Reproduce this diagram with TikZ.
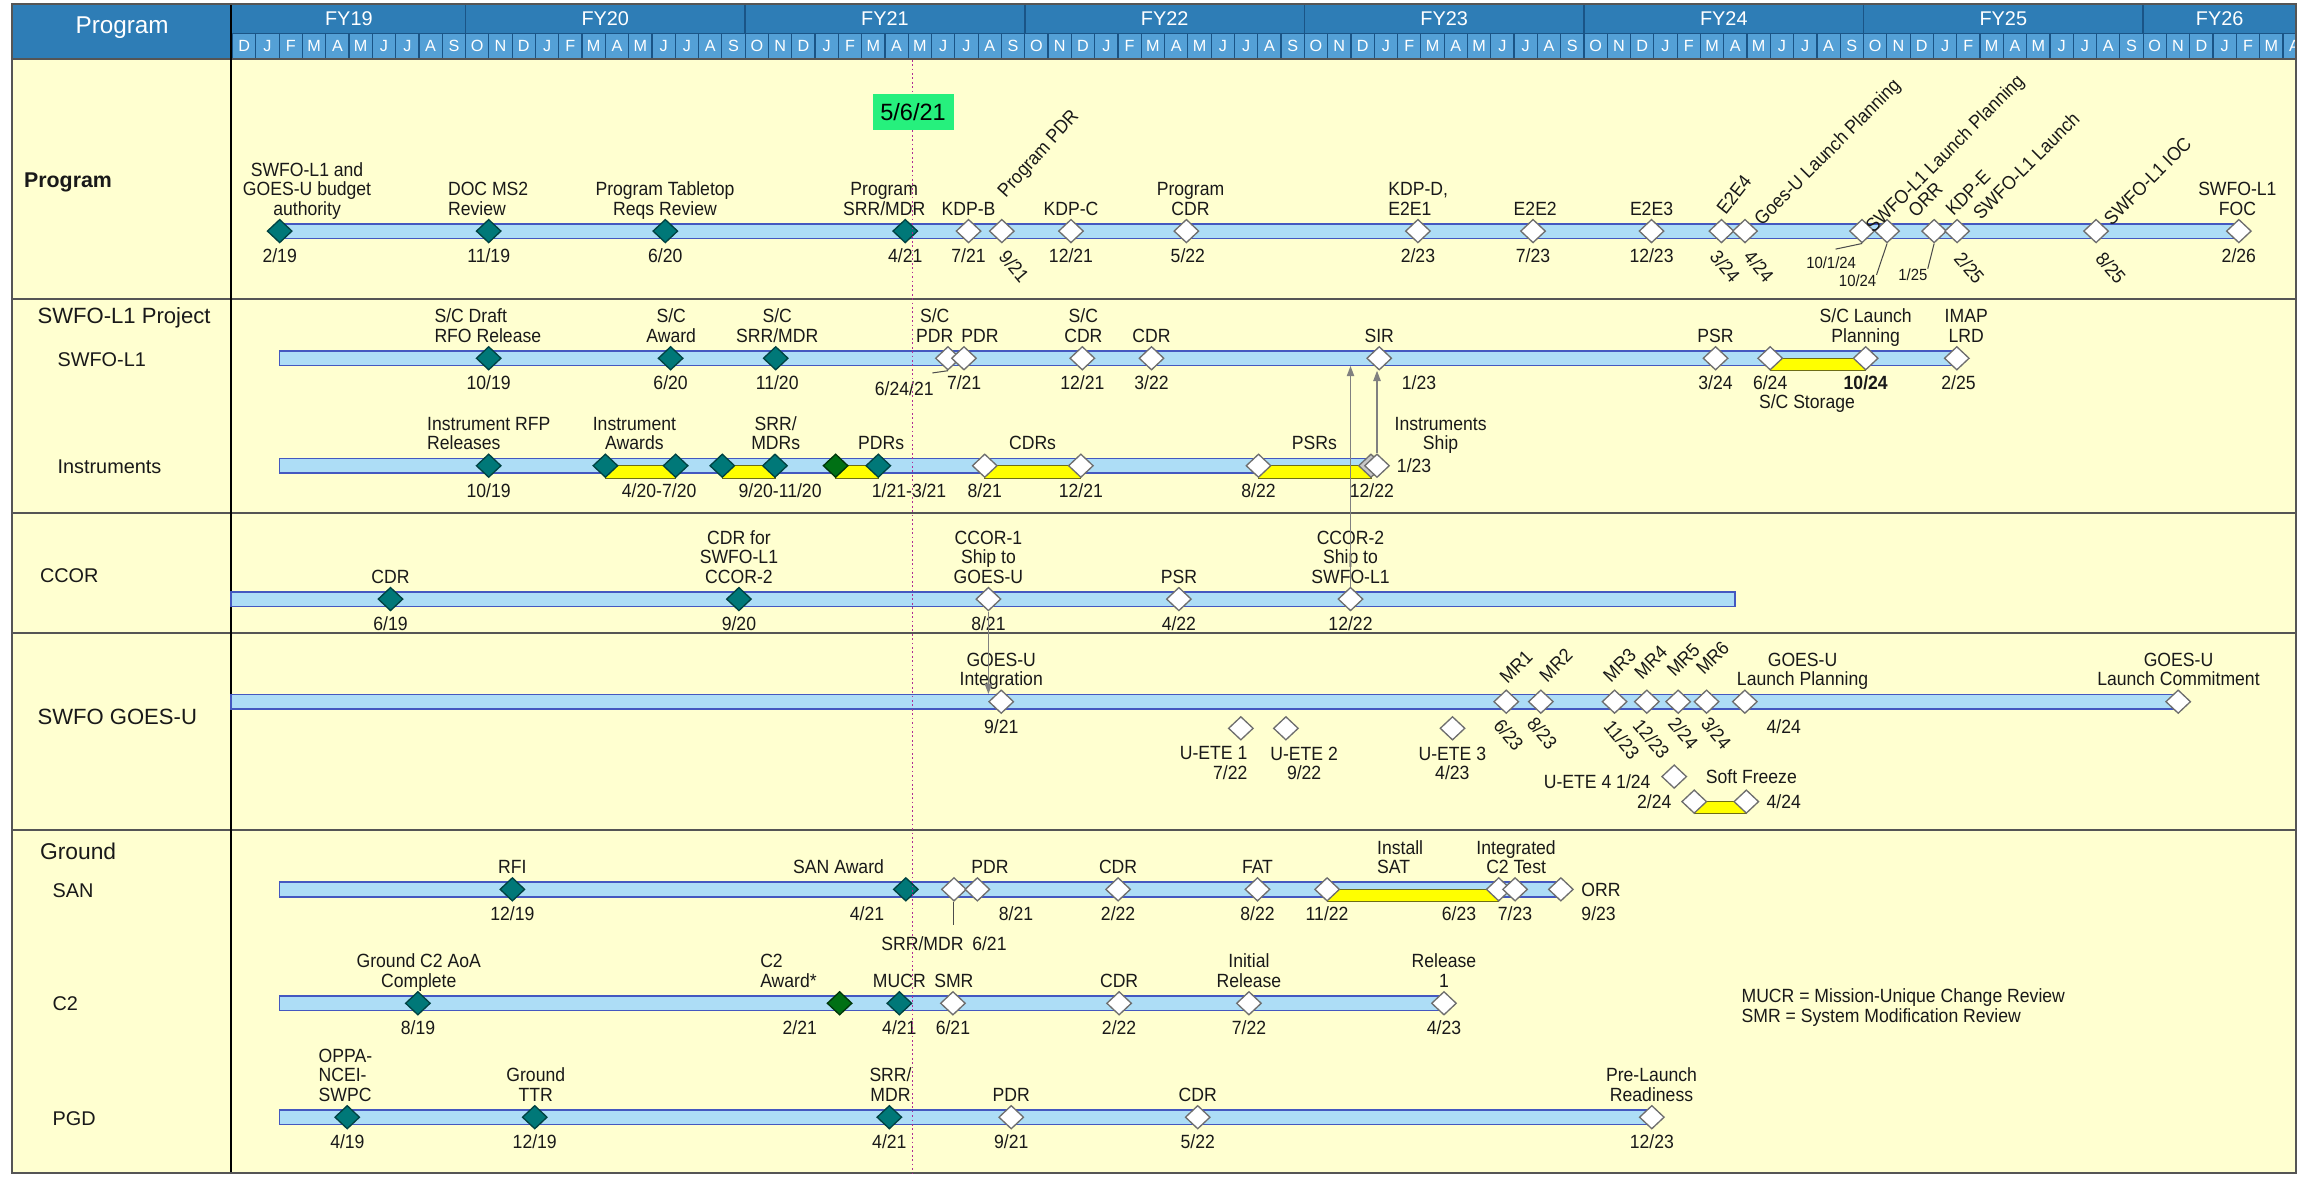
\documentclass[tikz,border=0pt]{standalone}
\usepackage{fontspec}
\setmainfont{Liberation Sans}[FakeStretch=0.92]
\newfontfamily\widefont{Liberation Sans}
\usetikzlibrary{shapes.geometric,arrows.meta}

\definecolor{hdr}{RGB}{46,125,182}
\definecolor{hdrcell}{RGB}{84,160,214}
\definecolor{hdrline}{RGB}{26,84,134}
\definecolor{paper}{RGB}{255,255,208}
\definecolor{rowline}{RGB}{85,85,85}
\definecolor{barfill}{RGB}{173,221,246}
\definecolor{barline}{RGB}{68,88,192}
\definecolor{tealfill}{RGB}{0,120,120}
\definecolor{tealline}{RGB}{0,66,66}
\definecolor{grnfill}{RGB}{0,112,20}
\definecolor{grnline}{RGB}{0,55,10}
\definecolor{openline}{RGB}{110,110,110}
\definecolor{bandfill}{RGB}{255,255,0}
\definecolor{bandline}{RGB}{110,110,20}
\definecolor{arrgray}{RGB}{128,128,128}
\definecolor{todayfill}{RGB}{38,240,125}
\definecolor{todayline}{RGB}{175,45,150}
\definecolor{ink}{RGB}{25,25,25}

\newcommand\lblfont{\fontsize{13}{13.3}\selectfont}
\newcommand\smlfont{\fontsize{11}{12}\selectfont}
\newcommand\rowfont{\widefont\fontsize{13.5}{14}\selectfont}

% milestone diamond, label above, date below, on the current row (\rowy)
\newcommand\mkdia[3]{\node[#1] (#2) at (#3,\rowy) {};}
\newcommand\mktop[4][]{\node[lab,#1] (#2) at (#3,\rowy) {#4};}
\newcommand\mkbot[4][]{\node[dt,#1] (#2) at (#3,\rowy) {#4};}

\begin{document}
\begin{tikzpicture}[x=1pt,y=-1pt,
  ms/.style={diamond, minimum width=17pt, minimum height=16pt, inner sep=0pt, line width=0.9pt},
  done/.style={ms, fill=tealfill, draw=tealline},
  todo/.style={ms, fill=white, draw=openline},
  dgreen/.style={ms, fill=grnfill, draw=grnline},
  lab/.style={anchor=south, inner sep=0pt, align=center, font=\lblfont, text=ink, yshift=6.5pt, execute at end node=\strut},
  dt/.style={anchor=base, inner sep=0pt, font=\lblfont, text=ink, yshift=-21.5pt},
  rlab/.style={inner sep=0pt, font=\lblfont, text=ink},
  rdt/.style={inner sep=0pt, font=\lblfont, text=ink, rotate=-50},
  free/.style={inner sep=0pt, font=\lblfont, text=ink},
  blab/.style={free, anchor=north, align=center, execute at begin node=\strut},
  rowlab/.style={anchor=base west, inner sep=0pt, font=\rowfont, text=ink},
  bar/.style={draw=barline, fill=barfill, line width=1.1pt},
  band/.style={draw=bandline, fill=bandfill, line width=0.8pt},
  arr/.style={draw=arrgray, line width=0.9pt, -{Triangle[length=7pt,width=5pt]}},
  lead/.style={draw=black!70, line width=0.7pt},
  mon/.style={inner sep=0pt, text=white, font=\widefont\fontsize{11}{11}\selectfont},
  fy/.style={inner sep=0pt, text=white, font=\widefont\fontsize{13.5}{14}\selectfont},
]
\useasboundingbox (0,0) rectangle (1568,799);

% ---------- header ----------
\fill[hdr] (8,2.5) rectangle (1560,40);
\begin{scope}
  \clip (157,22.6) rectangle (1560,40);
  \foreach \m [count=\i from 0] in {D,J,F,M,A,M,J,J,A,S,
      O,N,D,J,F,M,A,M,J,J,A,S, O,N,D,J,F,M,A,M,J,J,A,S,
      O,N,D,J,F,M,A,M,J,J,A,S, O,N,D,J,F,M,A,M,J,J,A,S,
      O,N,D,J,F,M,A,M,J,J,A,S, O,N,D,J,F,M,A,M,J,J,A,S,
      O,N,D,J,F,M,A} {
    \draw[draw=hdrline, fill=hdrcell, line width=0.8pt]
      ({158+15.829*\i},22.6) rectangle ({158+15.829*(\i+1)},40);
    \node[mon] (m\i) at ({158+15.829*(\i+0.5)},31.3) {\m};
  }
\end{scope}
\draw[hdrline, line width=1pt] (157,22.6) -- (1560,22.6);
\foreach \x in {316.3,506.2,696.2,886.2,1076.1,1266.1,1456}
  \draw[hdrline, line width=1pt] (\x,2.5) -- (\x,22.6);
\node[fy] (fy19) at (237,12.8) {FY19};
\node[fy] (fy20) at (411.2,12.8) {FY20};
\node[fy] (fy21) at (601.2,12.8) {FY21};
\node[fy] (fy22) at (791.2,12.8) {FY22};
\node[fy] (fy23) at (981.1,12.8) {FY23};
\node[fy] (fy24) at (1171.1,12.8) {FY24};
\node[fy] (fy25) at (1361,12.8) {FY25};
\node[fy] (fy26) at (1508,12.8) {FY26};
\node[inner sep=0pt, text=white, font=\widefont\fontsize{16.5}{17}\selectfont] (hprog) at (83,19) {Program};

% ---------- body and grid ----------
\fill[paper] (8,40) rectangle (1560,797);
\foreach \y in {203,348.7,430,564}
  \draw[rowline, line width=1.2pt] (8,\y) -- (1560,\y);
\draw[rowline, line width=1.2pt] (8,40) -- (1560,40);
\draw[black, line width=1.3pt] (157,2.5) -- (157,797);
\draw[rowline, line width=1.2pt] (8,2.5) rectangle (1560,797);

% row titles
\node[rowlab, font=\widefont\bfseries\fontsize{14.5}{15}\selectfont] (t-prog) at (16.2,127.4) {Program};
\node[rowlab, font=\widefont\fontsize{15}{16}\selectfont] (t-proj) at (25.3,220) {SWFO-L1 Project};
\node[rowlab] (t-swfo) at (38.9,248.8) {SWFO-L1};
\node[rowlab] (t-inst) at (38.9,321.8) {Instruments};
\node[rowlab] (t-ccor) at (27,395.4) {CCOR};
\node[rowlab, font=\widefont\fontsize{15}{16}\selectfont] (t-goes) at (25.3,492.2) {SWFO GOES-U};
\node[rowlab, font=\widefont\fontsize{15.5}{16}\selectfont] (t-grnd) at (27,584.2) {Ground};
\node[rowlab] (t-san) at (35.5,609.8) {SAN};
\node[rowlab] (t-c2) at (35.5,686.8) {C2};
\node[rowlab] (t-pgd) at (35.5,764.5) {PGD};

% ---------- timeline bars ----------
\draw[bar] (190,152) rectangle (1521,162);
\draw[bar] (190,238.4) rectangle (1329.4,248.4);
\draw[bar] (190,311.4) rectangle (935.5,321.4);
\draw[bar] (157,402) rectangle (1178.6,412);
\draw[bar] (157,471.7) rectangle (1479.8,481.7);
\draw[bar] (190,599.2) rectangle (1060.4,609.2);
\draw[bar] (190,676.6) rectangle (981,686.6);
\draw[bar] (190,754) rectangle (1122.2,764);

% ---------- duration bands ----------
\draw[band] (411.3,316.4) rectangle (459,325);
\draw[band] (490.7,316.4) rectangle (526.5,325);
\draw[band] (567.7,316.4) rectangle (596.7,325);
\draw[band] (669,316.4) rectangle (734.3,325);
\draw[band] (855,316.4) rectangle (931.4,325);
\draw[band] (1202.6,243.4) rectangle (1267.5,251.8);
\draw[band] (1151,544.6) rectangle (1186.4,552.6);
\draw[band] (901.6,604.2) rectangle (1018.2,612.6);

% ---------- Program ----------
\def\rowy{157}
\mkdia{done}{p1}{190}
\mkdia{done}{p2}{332}
\mkdia{done}{p3}{452}
\mkdia{done}{p4}{615}
\mkdia{todo}{p5}{658}
\mkdia{todo}{p6}{680.6}
\mkdia{todo}{p7}{727.6}
\mkdia{todo}{p8}{806}
\mkdia{todo}{p9}{963.3}
\mkdia{todo}{p10}{1041.5}
\mkdia{todo}{p11}{1122}
\mkdia{todo}{p12}{1169.5}
\mkdia{todo}{p13}{1185.5}
\mkdia{todo}{p14}{1265}
\mkdia{todo}{p15}{1282}
\mkdia{todo}{p16}{1314}
\mkdia{todo}{p17}{1329.6}
\mkdia{todo}{p18}{1424}
\mkdia{todo}{p19}{1521}
\mktop{p1-l}{208.6}{SWFO-L1 and\\GOES-U budget\\authority}
\mktop[anchor=south west,align=left]{p2-l}{304.2}{DOC MS2\\Review}
\mktop{p3-l}{451.8}{Program Tabletop\\Reqs Review}
\mktop{p4-l}{600.7}{Program\\SRR/MDR}
\mktop{p5-l}{658}{KDP-B}
\mktop{p7-l}{727.6}{KDP-C}
\mktop{p8-l}{808.8}{Program\\CDR}
\mktop[anchor=south west,align=left]{p9-l}{943}{KDP-D,\\E2E1}
\mktop{p10-l}{1043}{E2E2}
\mktop{p11-l}{1122}{E2E3}
\mktop{p19-l}{1520}{SWFO-L1\\FOC}
\node[rlab,rotate=48] (p6-l) at (706,105) {Program PDR};
\node[rlab,rotate=52] (p12-l) at (1178,132) {E2E4};
\node[rlab,rotate=45] (p13-l) at (1242,104) {Goes-U Launch Planning};
\node[rlab,rotate=45] (p14-l) at (1322,105) {SWFO-L1 Launch Planning};
\node[rlab,rotate=45] (p15-l) at (1308,136) {ORR};
\node[rlab,rotate=45] (p16-l) at (1337,131) {KDP-E};
\node[rlab,rotate=45] (p17-l) at (1376.5,112.6) {SWFO-L1 Launch};
\node[rlab,rotate=45] (p18-l) at (1459,123) {SWFO-L1 IOC};
\mkbot{p1-d}{190}{2/19}
\mkbot{p2-d}{332}{11/19}
\mkbot{p3-d}{452}{6/20}
\mkbot{p4-d}{615}{4/21}
\mkbot{p5-d}{658}{7/21}
\mkbot{p7-d}{727.6}{12/21}
\mkbot{p8-d}{807}{5/22}
\mkbot{p9-d}{963.3}{2/23}
\mkbot{p10-d}{1041.5}{7/23}
\mkbot{p11-d}{1122}{12/23}
\mkbot{p19-d}{1521}{2/26}
\node[rdt] (p6-d) at (689,181) {9/21};
\node[rdt] (p12-d) at (1172,181) {3/24};
\node[rdt] (p13-d) at (1195,181) {4/24};
\node[rdt] (p17-d) at (1338,182) {2/25};
\node[rdt] (p18-d) at (1434,182) {8/25};
\node[free,font=\smlfont] (p14-d) at (1244,178.5) {10/1/24};
\node[free,font=\smlfont] (p15-d) at (1262,191) {10/24};
\node[free,font=\smlfont] (p16-d) at (1299.6,186.8) {1/25};
\draw[lead] (p14.south) -- ([xshift=3pt,yshift=5pt]p14-d.north);
\draw[lead] (p15.south) -- (p15-d.north east);
\draw[lead] (p16.south) -- (p16-d.north east);

% ---------- SWFO-L1 ----------
\def\rowy{243.4}
\mkdia{done}{s1}{332}
\mkdia{done}{s2}{455.6}
\mkdia{done}{s3}{527}
\mkdia{todo}{s4}{644}
\mkdia{todo}{s5}{654.9}
\mkdia{todo}{s6}{735.3}
\mkdia{todo}{s7}{782.3}
\mkdia{todo}{s8}{937}
\mkdia{todo}{s9}{1165.5}
\mkdia{todo}{s10}{1202.6}
\mkdia{todo}{s11}{1267.5}
\mkdia{todo}{s12}{1329.4}
\mktop[anchor=south west,align=left]{s1-l}{295}{S/C Draft\\RFO Release}
\mktop{s2-l}{456}{S/C\\Award}
\mktop{s3-l}{528}{S/C\\SRR/MDR}
\mktop{s4-l}{635}{S/C\\PDR}
\mktop{s5-l}{665.8}{PDR}
\mktop{s6-l}{736}{S/C\\CDR}
\mktop{s7-l}{782.3}{CDR}
\mktop{s8-l}{937}{SIR}
\mktop{s9-l}{1165.5}{PSR}
\mktop{s11-l}{1267.5}{S/C Launch\\Planning}
\mktop{s12-l}{1335.8}{IMAP\\LRD}
\mkbot{s1-d}{332}{10/19}
\mkbot{s2-d}{455.6}{6/20}
\mkbot{s3-d}{528}{11/20}
\node[free,anchor=base] (s4-d) at (614.3,269) {6/24/21};
\mkbot{s5-d}{655}{7/21}
\mkbot{s6-d}{735.3}{12/21}
\mkbot{s7-d}{782.3}{3/22}
\mkbot{s8-d}{964}{1/23}
\mkbot{s9-d}{1165.5}{3/24}
\mkbot{s10-d}{1202.6}{6/24}
\mkbot[font=\lblfont\bfseries]{s11-d}{1267.5}{10/24}
\mkbot{s12-d}{1330.6}{2/25}
\node[free,anchor=base] (s10-n) at (1227.6,277.5) {S/C Storage};
\draw[lead] (s4.south) -- ([xshift=-1pt,yshift=6pt]s4-d.north east);

% ---------- Instruments ----------
\def\rowy{316.4}
\mkdia{done}{i1}{332}
\mkdia{done}{i2}{411.3}
\mkdia{done}{i3}{459}
\mkdia{done}{i4}{490.7}
\mkdia{done}{i5}{526.5}
\mkdia{dgreen}{i6}{567.7}
\mkdia{done}{i7}{596.7}
\mkdia{todo}{i8}{669}
\mkdia{todo}{i9}{734.3}
\mkdia{todo}{i10}{855}
\node[todo,fill=black!22] (i11) at (931.4,\rowy) {};
\mkdia{todo}{i12}{935.5}
\mktop[anchor=south west,align=left]{i1-l}{290}{Instrument RFP\\Releases}
\mktop{i2-l}{431}{Instrument\\Awards}
\mktop{i4-l}{527}{SRR/\\MDRs}
\mktop{i7-l}{598.6}{PDRs}
\mktop{i8-l}{701.5}{CDRs}
\mktop{i10-l}{893}{PSRs}
\mktop{i12-l}{978.7}{Instruments\\Ship}
\mkbot{i1-d}{332}{10/19}
\mkbot{i2-d}{447.8}{4/20-7/20}
\mkbot{i4-d}{530}{9/20-11/20}
\mkbot{i7-d}{617.6}{1/21-3/21}
\mkbot{i8-d}{669}{8/21}
\mkbot{i9-d}{734.3}{12/21}
\mkbot{i10-d}{855}{8/22}
\mkbot{i11-d}{932}{12/22}
\node[free,anchor=base] (i12-d) at (960.7,321.2) {1/23};

% ---------- CCOR ----------
\def\rowy{407}
\mkdia{done}{c1}{265.3}
\mkdia{done}{c2}{502}
\mkdia{todo}{c3}{671.5}
\mkdia{todo}{c4}{800.9}
\mkdia{todo}{c5}{917.5}
\mktop{c1-l}{265.3}{CDR}
\mktop{c2-l}{502}{CDR for\\SWFO-L1\\CCOR-2}
\mktop{c3-l}{671.5}{CCOR-1\\Ship to\\GOES-U}
\mktop{c4-l}{800.9}{PSR}
\mktop{c5-l}{917.5}{CCOR-2\\Ship to\\SWFO-L1}
\mkbot{c1-d}{265.3}{6/19}
\mkbot{c2-d}{502}{9/20}
\mkbot{c3-d}{671.5}{8/21}
\mkbot{c4-d}{800.9}{4/22}
\mkbot{c5-d}{917.5}{12/22}

% ---------- SWFO GOES-U ----------
\def\rowy{476.7}
\mkdia{todo}{g1}{680.2}
\mkdia{todo}{g2}{1023.3}
\mkdia{todo}{g3}{1046.8}
\mkdia{todo}{g4}{1096.9}
\mkdia{todo}{g5}{1118.8}
\mkdia{todo}{g6}{1140.1}
\mkdia{todo}{g7}{1159.4}
\mkdia{todo}{g8}{1185.4}
\mkdia{todo}{g9}{1479.8}
\mktop{g1-l}{680.2}{GOES-U\\Integration}
\mktop{g8-l}{1224.6}{GOES-U\\Launch Planning}
\mktop{g9-l}{1480}{GOES-U\\Launch Commitment}
\node[rlab,rotate=45] (g2-l) at (1030,453) {MR1};
\node[rlab,rotate=45] (g3-l) at (1057,452) {MR2};
\node[rlab,rotate=45] (g4-l) at (1100.3,452) {MR3};
\node[rlab,rotate=45] (g5-l) at (1121.5,450) {MR4};
\node[rlab,rotate=45] (g6-l) at (1143.6,448.5) {MR5};
\node[rlab,rotate=45] (g7-l) at (1163.5,447) {MR6};
\mkbot{g1-d}{680.2}{9/21}
\mkbot{g8-d}{1211.8}{4/24}
\node[rdt] (g2-d) at (1025,499.3) {6/23};
\node[rdt] (g3-d) at (1047.8,498) {8/23};
\node[rdt] (g4-d) at (1101.9,502.7) {11/23};
\node[rdt] (g5-d) at (1121.9,502) {12/23};
\node[rdt] (g6-d) at (1143.6,498) {2/24};
\node[rdt] (g7-d) at (1166,498) {3/24};
\node[todo] (u1) at (843,494.8) {};
\node[todo] (u2) at (873.6,494.8) {};
\node[todo] (u3) at (986.8,494.8) {};
\node[blab,anchor=north east,align=right] (u1-l) at (847.6,507.1) {U-ETE 1\\7/22};
\node[blab] (u2-l) at (886,507.1) {U-ETE 2\\9/22};
\node[blab] (u3-l) at (986.7,507.1) {U-ETE 3\\4/23};
\node[todo] (u4) at (1137.4,527.6) {};
\node[free,anchor=base east] (u4-l) at (1121.5,535.6) {U-ETE 4 1/24};
\node[todo] (f1) at (1151,544.6) {};
\node[todo] (f2) at (1186.4,544.6) {};
\node[free,anchor=base east] (f1-d) at (1135.7,549.2) {2/24};
\node[free,anchor=base] (f-l) at (1189.8,532.2) {Soft Freeze};
\node[free,anchor=base west] (f2-d) at (1200,549.2) {4/24};

% ---------- Ground: SAN ----------
\def\rowy{604.2}
\mkdia{done}{n1}{348.1}
\mkdia{done}{n2}{615.4}
\mkdia{todo}{n3}{648.1}
\mkdia{todo}{n4}{664}
\mkdia{todo}{n5}{759.6}
\mkdia{todo}{n6}{854.3}
\mkdia{todo}{n7}{901.6}
\mkdia{todo}{n8}{1018.2}
\mkdia{todo}{n9}{1029.3}
\mkdia{todo}{n10}{1060.4}
\mktop{n1-l}{348.1}{RFI}
\mktop{n2-l}{569.7}{SAN Award}
\mktop{n4-l}{672.5}{PDR}
\mktop{n5-l}{759.6}{CDR}
\mktop{n6-l}{854.3}{FAT}
\mktop[anchor=south west,align=left]{n8-l}{935.4}{Install\\SAT}
\mktop{n9-l}{1030}{Integrated\\C2 Test}
\node[free,anchor=base west] (n10-l) at (1074.2,609.2) {ORR};
\mkbot{n1-d}{348.1}{12/19}
\mkbot{n2-d}{589}{4/21}
\mkbot{n4-d}{690.3}{8/21}
\mkbot{n5-d}{759.6}{2/22}
\mkbot{n6-d}{854.3}{8/22}
\mkbot{n7-d}{901.6}{11/22}
\mkbot{n8-d}{991.2}{6/23}
\mkbot{n9-d}{1029.3}{7/23}
\mkbot[anchor=base west]{n10-d}{1074.2}{9/23}
\node[free,anchor=base] (n3-d) at (641.3,645.9) {SRR/MDR\hspace{6pt}6/21};
\coordinate (n3end) at (648.1,628.4);
\draw[lead] (n3.south) -- (n3end);

% ---------- Ground: C2 ----------
\def\rowy{681.6}
\mkdia{done}{k1}{283.9}
\mkdia{dgreen}{k2}{570.4}
\mkdia{done}{k3}{611}
\mkdia{todo}{k4}{647.4}
\mkdia{todo}{k5}{760.3}
\mkdia{todo}{k6}{848.5}
\mkdia{todo}{k7}{981}
\mktop{k1-l}{284.5}{Ground C2 AoA\\Complete}
\mktop[anchor=south west,align=left]{k2-l}{516.3}{C2\\Award*}
\mktop{k3-l}{611}{MUCR}
\mktop{k4-l}{648}{SMR}
\mktop{k5-l}{760.3}{CDR}
\mktop{k6-l}{848.5}{Initial\\Release}
\mktop{k7-l}{981}{Release\\1}
\mkbot{k1-d}{284}{8/19}
\mkbot{k2-d}{543.3}{2/21}
\mkbot{k3-d}{611}{4/21}
\mkbot{k4-d}{647.4}{6/21}
\mkbot{k5-d}{760.3}{2/22}
\mkbot{k6-d}{848.5}{7/22}
\mkbot{k7-d}{981}{4/23}
\node[free,anchor=north west,align=left,execute at begin node=\strut] (legend) at (1183,671.7)
  {MUCR = Mission-Unique Change Review\\SMR = System Modification Review};

% ---------- Ground: PGD ----------
\def\rowy{759}
\mkdia{done}{q1}{235.9}
\mkdia{done}{q2}{363.3}
\mkdia{done}{q3}{604.2}
\mkdia{todo}{q4}{687}
\mkdia{todo}{q5}{813.7}
\mkdia{todo}{q6}{1122.2}
\mktop[anchor=south west,align=left]{q1-l}{216.3}{OPPA-\\NCEI-\\SWPC}
\mktop{q2-l}{364}{Ground\\TTR}
\mktop{q3-l}{605}{SRR/\\MDR}
\mktop{q4-l}{687}{PDR}
\mktop{q5-l}{813.7}{CDR}
\mktop{q6-l}{1122}{Pre-Launch\\Readiness}
\mkbot{q1-d}{236}{4/19}
\mkbot{q2-d}{363.3}{12/19}
\mkbot{q3-d}{604.2}{4/21}
\mkbot{q4-d}{687}{9/21}
\mkbot{q5-d}{813.7}{5/22}
\mkbot{q6-d}{1122.2}{12/23}

% ---------- dependency arrows ----------
\coordinate (swtip) at (917.8,248.6);
\draw[arr] (c5.north) -- (c5.north |- swtip);
\draw[arr] (i12.north) -- (i12.north |- s8.south);
\coordinate (gtip) at (671.5,471.5);
\draw[arr] (c3.south) -- (gtip);

% ---------- status date ----------
\draw[todayline, line width=1pt, dash pattern=on 1.2pt off 1.8pt] (620,40.6) -- (620,797);
\node[fill=todayfill, minimum width=55pt, minimum height=24.5pt, inner sep=0pt,
      font=\widefont\fontsize{16}{16}\selectfont, text=black] (today) at (620.3,76.3) {5/6/21};
\end{tikzpicture}
\end{document}
